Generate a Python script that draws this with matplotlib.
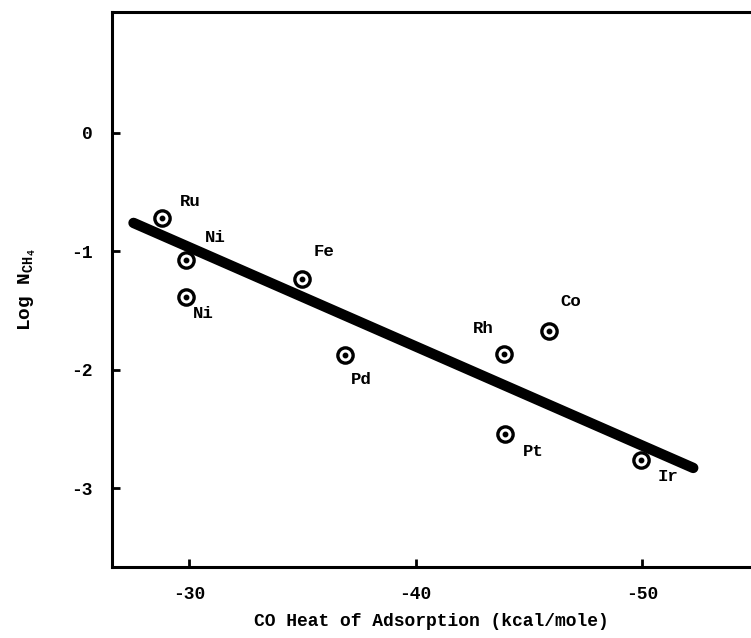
import matplotlib.pyplot as plt

# CO heat of adsorption (kcal/mole) vs log of methanation turnover
metals = ['Ru', 'Ni', 'Ni', 'Fe', 'Pd', 'Rh', 'Co', 'Pt', 'Ir']
heat = [-28.8, -29.85, -29.85, -35.0, -36.9, -43.9, -45.9, -43.95, -49.95]
log_n = [-0.72, -1.07, -1.39, -1.23, -1.88, -1.87, -1.67, -2.54, -2.76]
# label offsets in pixels (dx, dy), dy up
label_off = [(18, 17), (19, 22), (7, -16), (11, 27), (5, -24), (-31, 26), (11, 29), (18, -18), (17, -17)]

# fitted line end points
fit_x = [-27.55, -52.25]
fit_y = [-0.76, -2.83]

plt.rcParams['font.family'] = ['Liberation Mono', 'DejaVu Sans Mono']
plt.rcParams['font.weight'] = 'bold'
plt.rcParams['mathtext.fontset'] = 'custom'
plt.rcParams['mathtext.rm'] = 'Liberation Mono:bold'
plt.rcParams['mathtext.it'] = 'Liberation Mono:bold'

fig = plt.figure(figsize=(7.51, 6.38), dpi=100)
ax = fig.add_axes([112 / 751, 1 - 567 / 638, 1 - 112 / 751, (567 - 12) / 638])

ax.plot(fit_x, fit_y, color='black', lw=7.5, solid_capstyle='round', zorder=2)
ax.plot(heat, log_n, 'o', ms=11, mfc='white', mec='black', mew=2.4, zorder=3)
ax.plot(heat, log_n, 'o', ms=3.2, color='black', zorder=4)

for m, x, y, (dx, dy) in zip(metals, heat, log_n, label_off):
    ax.annotate(m, (x, y), xytext=(dx, dy), textcoords='offset pixels',
                ha='left', va='center', fontsize=12.5, fontweight='bold')

ax.set_xlim(-26.6, -54.8)
ax.set_ylim(-3.667, 1.022)
ax.set_xticks([-30, -40, -50])
ax.set_yticks([0, -1, -2, -3])
ax.set_xticklabels(['-30', '-40', '-50'])
ax.set_yticklabels(['0', '-1', '-2', '-3'])
ax.tick_params(direction='in', length=6, width=2, labelsize=13, pad=14)
ax.spines['right'].set_visible(False)
for s in ['left', 'bottom', 'top']:
    ax.spines[s].set_linewidth(2.2)

ax.set_xlabel('CO Heat of Adsorption (kcal/mole)', fontsize=13, fontweight='bold', labelpad=7)
ax.set_ylabel(r'Log N$_{\mathregular{CH_4}}$', fontsize=14, fontweight='bold', labelpad=24)

fig.savefig('out.png', dpi=100)
